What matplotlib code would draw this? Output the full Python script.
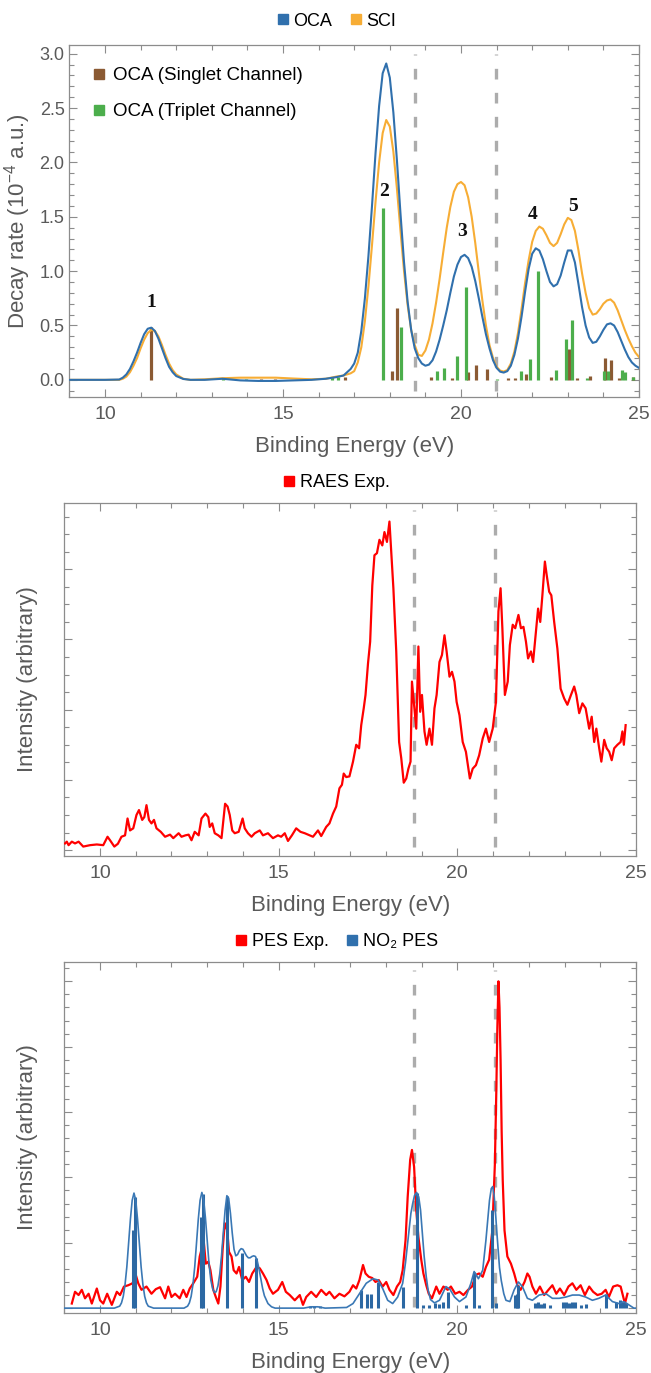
import matplotlib.pyplot as plt
from matplotlib.lines import Line2D
from matplotlib.ticker import MultipleLocator

plt.rcParams['font.family'] = ['Liberation Sans', 'DejaVu Sans']
plt.rcParams['mathtext.default'] = 'regular'

# ---- panel 1: OCA / SCI decay rates ----
top_e = [9.0, 10.0, 10.4, 10.5, 10.6, 10.7, 10.8, 10.9, 11.0, 11.1, 11.2, 11.3, 11.4, 11.5,
         11.6, 11.7, 11.8, 11.9, 12.0, 12.2, 12.4, 12.8, 13.3, 13.8, 14.3, 14.8, 15.3, 15.8,
         16.2, 16.5, 16.7, 16.9,
         17.0, 17.1, 17.2, 17.3, 17.4, 17.5, 17.6, 17.7, 17.8, 17.9,
         18.0, 18.1, 18.2, 18.3, 18.4, 18.5, 18.6, 18.7, 18.8, 18.9,
         19.0, 19.1, 19.2, 19.3, 19.4, 19.5, 19.6, 19.7, 19.8, 19.9,
         20.0, 20.1, 20.2, 20.3, 20.4, 20.5, 20.6, 20.7, 20.8, 20.9,
         21.0, 21.1, 21.2, 21.3, 21.4, 21.5, 21.6, 21.7, 21.8, 21.9,
         22.0, 22.1, 22.2, 22.3, 22.4, 22.5, 22.6, 22.7, 22.8, 22.9,
         23.0, 23.1, 23.2, 23.3, 23.4, 23.5, 23.6, 23.7, 23.8, 23.9,
         24.0, 24.1, 24.2, 24.3, 24.4, 24.5, 24.6, 24.7, 24.8, 24.9, 25.0]
oca_curve = [0, 0, 0.003, 0.02, 0.05, 0.1, 0.17, 0.25, 0.34, 0.42, 0.47, 0.48, 0.45, 0.38,
             0.29, 0.2, 0.12, 0.07, 0.035, 0.008, 0.0, 0.0, 0.01, -0.005, -0.01, -0.01, -0.005, 0.0,
             0.01, 0.025, 0.04, 0.1,
             0.15, 0.25, 0.45, 0.75, 1.14, 1.6, 2.09, 2.52, 2.82, 2.91,
             2.78, 2.46, 2.02, 1.53, 1.08, 0.72, 0.46, 0.29, 0.2, 0.15,
             0.13, 0.14, 0.18, 0.26, 0.37, 0.5, 0.64, 0.8, 0.95, 1.06,
             1.13, 1.15, 1.12, 1.04, 0.91, 0.75, 0.58, 0.42, 0.29, 0.18,
             0.11, 0.075, 0.067, 0.08, 0.13, 0.23, 0.38, 0.58, 0.81, 1.02,
             1.16, 1.21, 1.19, 1.11, 1.0, 0.9, 0.86, 0.88, 0.96, 1.08,
             1.19, 1.19, 1.08, 0.88, 0.67, 0.5, 0.39, 0.34, 0.35, 0.4,
             0.46, 0.51, 0.52, 0.5, 0.44, 0.36, 0.28, 0.21, 0.16, 0.13, 0.11]
sci_curve = [0, 0, 0.0, 0.01, 0.03, 0.07, 0.13, 0.2, 0.29, 0.37, 0.43, 0.46, 0.45, 0.4,
             0.32, 0.23, 0.15, 0.09, 0.05, 0.01, 0.0, 0.005, 0.015, 0.02, 0.02, 0.02, 0.012, 0.005,
             0.01, 0.03, 0.04, 0.06,
             0.08, 0.16, 0.3, 0.54, 0.86, 1.24, 1.64, 2.0, 2.27, 2.39,
             2.33, 2.1, 1.76, 1.37, 1.0, 0.69, 0.46, 0.32, 0.23, 0.22,
             0.27, 0.37, 0.52, 0.71, 0.93, 1.17, 1.4, 1.59, 1.73, 1.8,
             1.82, 1.79, 1.68, 1.5, 1.26, 0.99, 0.73, 0.5, 0.32, 0.2,
             0.12, 0.085, 0.076, 0.09, 0.15, 0.26, 0.43, 0.65, 0.89, 1.1,
             1.27, 1.37, 1.41, 1.39, 1.33, 1.26, 1.23, 1.26, 1.34, 1.43,
             1.49, 1.47, 1.37, 1.19, 0.98, 0.8, 0.66, 0.6, 0.61, 0.65,
             0.7, 0.73, 0.74, 0.71, 0.64, 0.55, 0.46, 0.38, 0.31, 0.25, 0.21]

singlet_e = [11.29, 14.37, 14.78, 16.74, 18.07, 18.19, 19.15, 19.76, 20.19, 20.41, 20.74,
             21.33, 21.52, 21.82, 22.52, 23.04, 23.25, 23.62, 24.05, 24.2, 24.45, 24.84]
singlet_h = [0.49, 0.01, 0.01, 0.03, 0.08, 0.66, 0.03, 0.02, 0.07, 0.14, 0.10,
             0.02, 0.02, 0.05, 0.03, 0.28, 0.02, 0.04, 0.20, 0.18, 0.02, 0.03]
triplet_e = [13.31, 13.96, 16.37, 16.55, 17.80, 18.31, 19.32, 19.52, 19.90, 20.13, 21.02, 21.69,
             21.94, 22.17, 22.67, 22.94, 23.11, 23.53, 24.03, 24.14, 24.51, 24.61, 24.84]
triplet_h = [0.02, 0.01, 0.03, 0.03, 1.58, 0.49, 0.08, 0.11, 0.22, 0.85, 0.01, 0.08,
             0.19, 1.00, 0.09, 0.38, 0.55, 0.02, 0.08, 0.08, 0.09, 0.07, 0.03]

peak_labels = ['1', '2', '3', '4', '5']
peak_label_e = [11.29, 17.85, 20.04, 22.0, 23.14]
peak_label_y = [0.71, 1.73, 1.36, 1.52, 1.59]

# ---- panel 2: RAES experiment ----
raes_pts = [(9.02, 0.095), (9.07, 0.12), (9.12, 0.07), (9.21, 0.12), (9.3, 0.095), (9.4, 0.12),
            (9.53, 0.05), (9.72, 0.07), (9.91, 0.08), (10.09, 0.07), (10.21, 0.19), (10.28, 0.14),
            (10.4, 0.05), (10.5, 0.09), (10.6, 0.19), (10.7, 0.21), (10.77, 0.45), (10.84, 0.28),
            (10.93, 0.31), (11.02, 0.5), (11.09, 0.57), (11.18, 0.43), (11.24, 0.47), (11.3, 0.64),
            (11.37, 0.43), (11.44, 0.38), (11.51, 0.43), (11.58, 0.31), (11.7, 0.26), (11.82, 0.19),
            (11.96, 0.22), (12.05, 0.17), (12.2, 0.24), (12.28, 0.19), (12.39, 0.21), (12.48, 0.22),
            (12.56, 0.14), (12.65, 0.26), (12.76, 0.21), (12.84, 0.45), (12.95, 0.52), (13.03, 0.47),
            (13.07, 0.33), (13.14, 0.38), (13.21, 0.24), (13.31, 0.21), (13.4, 0.17), (13.5, 0.66),
            (13.57, 0.62), (13.63, 0.5), (13.7, 0.28), (13.77, 0.24), (13.88, 0.26), (13.99, 0.45),
            (14.05, 0.31), (14.14, 0.24), (14.24, 0.19), (14.33, 0.24), (14.47, 0.28), (14.56, 0.21),
            (14.7, 0.24), (14.84, 0.17), (14.98, 0.21), (15.07, 0.19), (15.17, 0.24), (15.26, 0.13),
            (15.37, 0.21), (15.49, 0.31), (15.61, 0.26), (15.73, 0.24), (15.87, 0.21), (15.96, 0.19),
            (16.1, 0.28), (16.19, 0.2), (16.33, 0.33), (16.42, 0.38), (16.52, 0.52), (16.61, 0.62),
            (16.7, 0.88), (16.77, 0.93), (16.82, 1.09), (16.89, 1.04), (16.98, 1.05), (17.08, 1.26),
            (17.17, 1.5), (17.25, 1.45), (17.31, 1.78), (17.38, 2.02), (17.43, 2.21), (17.5, 2.66),
            (17.56, 2.97), (17.62, 3.77), (17.68, 4.2), (17.75, 4.23), (17.82, 4.42), (17.9, 4.34),
            (17.96, 4.53), (18.03, 4.39), (18.1, 4.68), (18.15, 4.25), (18.21, 3.73), (18.29, 2.83),
            (18.37, 1.54), (18.43, 1.31), (18.5, 0.96), (18.57, 1.02), (18.63, 1.16), (18.69, 1.26),
            (18.73, 2.4), (18.79, 2.07), (18.85, 1.73), (18.91, 2.9), (18.96, 1.97), (19.01, 2.21),
            (19.08, 1.69), (19.14, 1.5), (19.22, 1.73), (19.29, 1.5), (19.36, 2.02), (19.42, 2.21),
            (19.5, 2.68), (19.57, 2.78), (19.64, 3.06), (19.7, 2.83), (19.78, 2.47), (19.85, 2.54),
            (19.92, 2.4), (19.98, 2.11), (20.06, 1.92), (20.15, 1.54), (20.24, 1.4), (20.35, 1.02),
            (20.43, 1.16), (20.52, 1.21), (20.61, 1.35), (20.71, 1.59), (20.8, 1.73), (20.89, 1.54),
            (20.99, 1.73), (21.08, 2.11), (21.15, 3.4), (21.21, 3.73), (21.26, 3.16), (21.33, 2.21),
            (21.41, 2.4), (21.47, 2.92), (21.55, 3.21), (21.62, 3.16), (21.71, 3.35), (21.78, 3.16),
            (21.85, 3.18), (21.92, 2.97), (21.98, 2.73), (22.06, 2.83), (22.12, 2.68), (22.2, 3.11),
            (22.26, 3.44), (22.32, 3.25), (22.38, 3.63), (22.45, 4.11), (22.5, 3.92), (22.57, 3.68),
            (22.63, 3.63), (22.71, 3.25), (22.8, 2.87), (22.89, 2.3), (22.99, 2.16), (23.08, 2.07),
            (23.18, 2.21), (23.27, 2.33), (23.33, 2.21), (23.41, 1.95), (23.5, 2.09), (23.59, 2.02),
            (23.69, 1.73), (23.76, 1.9), (23.83, 1.54), (23.89, 1.73), (23.97, 1.45), (24.03, 1.26),
            (24.11, 1.57), (24.18, 1.45), (24.25, 1.4), (24.32, 1.28), (24.39, 1.45), (24.48, 1.5),
            (24.57, 1.54), (24.62, 1.69), (24.66, 1.5), (24.71, 1.78)]

# ---- panel 3: PES experiment and NO2 PES ----
pes_exp_pts = [(9.21, 0.07), (9.3, 0.25), (9.4, 0.2), (9.49, 0.28), (9.58, 0.15), (9.68, 0.22),
               (9.77, 0.07), (9.91, 0.3), (10.0, 0.12), (10.09, 0.07), (10.2, 0.22), (10.33, 0.05),
               (10.47, 0.25), (10.56, 0.2), (10.67, 0.33), (10.79, 0.35), (10.91, 0.38), (11.0, 0.51),
               (11.07, 0.38), (11.16, 0.28), (11.3, 0.33), (11.44, 0.22), (11.56, 0.29), (11.68, 0.32),
               (11.82, 0.15), (11.91, 0.33), (12.0, 0.17), (12.1, 0.22), (12.23, 0.15), (12.33, 0.28),
               (12.42, 0.17), (12.51, 0.3), (12.61, 0.38), (12.72, 0.48), (12.79, 0.79), (12.86, 0.94),
               (12.9, 1.04), (12.96, 0.68), (13.03, 0.71), (13.09, 0.58), (13.17, 0.28), (13.24, 0.17),
               (13.31, 0.07), (13.37, 0.33), (13.43, 0.89), (13.49, 1.3), (13.56, 1.19), (13.61, 0.86),
               (13.68, 0.79), (13.74, 0.58), (13.82, 0.53), (13.89, 0.63), (13.98, 0.43), (14.08, 0.48),
               (14.17, 0.4), (14.26, 0.53), (14.38, 0.63), (14.47, 0.61), (14.56, 0.53), (14.66, 0.43),
               (14.75, 0.3), (14.84, 0.22), (14.98, 0.28), (15.1, 0.4), (15.2, 0.25), (15.31, 0.2),
               (15.45, 0.12), (15.59, 0.2), (15.68, 0.05), (15.77, 0.17), (15.91, 0.25), (16.05, 0.17),
               (16.19, 0.28), (16.33, 0.2), (16.42, 0.25), (16.56, 0.15), (16.7, 0.22), (16.84, 0.18),
               (16.98, 0.25), (17.08, 0.35), (17.17, 0.3), (17.26, 0.43), (17.36, 0.66), (17.43, 0.53),
               (17.52, 0.48), (17.62, 0.46), (17.71, 0.4), (17.8, 0.43), (17.91, 0.33), (18.01, 0.4),
               (18.1, 0.28), (18.21, 0.2), (18.31, 0.33), (18.4, 0.4), (18.47, 0.58), (18.55, 1.04),
               (18.61, 1.7), (18.68, 2.27), (18.73, 2.42), (18.79, 2.16), (18.85, 1.5), (18.91, 1.09),
               (18.99, 0.74), (19.05, 0.53), (19.13, 0.35), (19.2, 0.22), (19.29, 0.15), (19.41, 0.33),
               (19.5, 0.22), (19.61, 0.33), (19.73, 0.28), (19.82, 0.33), (19.94, 0.22), (20.06, 0.25),
               (20.17, 0.2), (20.3, 0.28), (20.41, 0.33), (20.52, 0.51), (20.61, 0.53), (20.71, 0.48),
               (20.8, 0.63), (20.89, 0.74), (20.98, 1.19), (21.05, 2.2), (21.09, 3.3), (21.12, 4.3),
               (21.15, 5.0), (21.18, 4.6), (21.21, 3.8), (21.24, 2.7), (21.27, 1.96), (21.32, 1.19),
               (21.4, 0.79), (21.5, 0.68), (21.59, 0.53), (21.68, 0.35), (21.77, 0.28), (21.88, 0.4),
               (21.96, 0.53), (22.02, 0.48), (22.1, 0.33), (22.2, 0.22), (22.31, 0.33), (22.43, 0.2),
               (22.55, 0.28), (22.66, 0.35), (22.77, 0.22), (22.87, 0.3), (22.99, 0.2), (23.11, 0.33),
               (23.22, 0.38), (23.33, 0.28), (23.45, 0.35), (23.57, 0.2), (23.69, 0.33), (23.8, 0.25),
               (23.92, 0.2), (24.04, 0.22), (24.15, 0.28), (24.24, 0.17), (24.36, 0.33), (24.48, 0.35),
               (24.57, 0.33), (24.63, 0.2), (24.69, 0.07), (24.76, 0.22)]

no2_curve_pts = [(9.0, 0.0), (10.4, 0.0), (10.55, 0.03), (10.6, 0.08), (10.65, 0.18), (10.7, 0.36),
                 (10.75, 0.63), (10.8, 0.99), (10.85, 1.36), (10.9, 1.65), (10.95, 1.76), (11.0, 1.65),
                 (11.05, 1.36), (11.1, 0.99), (11.15, 0.63), (11.2, 0.36), (11.25, 0.18), (11.3, 0.08),
                 (11.35, 0.03), (11.5, 0.0), (12.35, 0.0), (12.45, 0.03), (12.5, 0.08), (12.55, 0.18),
                 (12.6, 0.36), (12.65, 0.63), (12.7, 0.99), (12.75, 1.36), (12.8, 1.65), (12.85, 1.77),
                 (12.9, 1.66), (12.95, 1.38), (13.0, 1.02), (13.05, 0.68), (13.1, 0.43), (13.15, 0.3),
                 (13.2, 0.24), (13.25, 0.25), (13.3, 0.34), (13.35, 0.52), (13.4, 0.8), (13.45, 1.15),
                 (13.5, 1.5), (13.55, 1.72), (13.6, 1.68), (13.65, 1.45), (13.7, 1.15), (13.75, 0.9),
                 (13.8, 0.8), (13.85, 0.82), (13.9, 0.88), (13.95, 0.91), (14.0, 0.9), (14.05, 0.85),
                 (14.1, 0.8), (14.15, 0.77), (14.2, 0.77), (14.25, 0.79), (14.3, 0.8), (14.35, 0.79),
                 (14.4, 0.72), (14.45, 0.6), (14.5, 0.45), (14.55, 0.3), (14.6, 0.19), (14.7, 0.07),
                 (14.8, 0.02), (14.9, 0.0), (15.7, 0.0), (15.9, 0.02), (16.1, 0.02), (16.3, 0.0),
                 (16.9, 0.01), (17.08, 0.07), (17.26, 0.22), (17.45, 0.38), (17.64, 0.45), (17.78, 0.43),
                 (17.91, 0.3), (18.05, 0.12), (18.19, 0.07), (18.33, 0.17), (18.47, 0.38), (18.55, 0.7),
                 (18.6, 0.95), (18.65, 1.2), (18.7, 1.45), (18.75, 1.6), (18.8, 1.72), (18.86, 1.77),
                 (18.92, 1.7), (18.97, 1.5), (19.02, 1.15), (19.07, 0.8), (19.13, 0.48), (19.18, 0.28),
                 (19.25, 0.13), (19.36, 0.08), (19.5, 0.12), (19.68, 0.33), (19.79, 0.29), (19.92, 0.17),
                 (20.06, 0.1), (20.24, 0.17), (20.38, 0.38), (20.47, 0.56), (20.59, 0.45), (20.71, 0.58),
                 (20.8, 1.04), (20.85, 1.35), (20.9, 1.65), (20.95, 1.83), (20.99, 1.86), (21.03, 1.72),
                 (21.07, 1.45), (21.1, 1.2), (21.14, 0.9), (21.18, 0.62), (21.23, 0.42), (21.3, 0.22),
                 (21.36, 0.12), (21.47, 0.1), (21.59, 0.28), (21.71, 0.4), (21.82, 0.33), (21.96, 0.15),
                 (22.1, 0.12), (22.29, 0.2), (22.48, 0.22), (22.66, 0.15), (22.85, 0.15), (23.04, 0.17),
                 (23.22, 0.2), (23.41, 0.2), (23.59, 0.17), (23.78, 0.12), (23.96, 0.15), (24.15, 0.2),
                 (24.34, 0.1), (24.52, 0.07), (24.66, 0.1), (24.8, 0.05), (24.94, 0.0), (25.0, 0.0)]

no2_stick_e = [10.91, 10.97, 12.82, 12.88, 13.54, 13.98, 14.36, 15.87, 16.0, 16.15, 17.31, 17.47,
               17.59, 17.78, 18.47, 18.87, 19.03, 19.22, 19.38, 19.5, 19.6, 19.73, 20.24, 20.47,
               20.6, 20.96, 21.08, 21.62, 21.66, 21.71, 22.18, 22.26, 22.34, 22.42, 22.6, 22.95,
               23.05, 23.12, 23.2, 23.3, 23.45, 23.6, 24.15, 24.45, 24.55, 24.65, 24.72]
no2_stick_h = [1.2, 1.7, 1.4, 1.75, 1.72, 0.85, 0.77, 0.03, 0.03, 0.03, 0.28, 0.22,
               0.22, 0.40, 0.33, 1.76, 0.05, 0.05, 0.08, 0.06, 0.1, 0.25, 0.05, 0.56,
               0.05, 1.5, 0.08, 0.2, 0.22, 0.35, 0.08, 0.1, 0.06, 0.08, 0.05, 0.1,
               0.1, 0.08, 0.1, 0.09, 0.05, 0.06, 0.22, 0.1, 0.12, 0.1, 0.08]

C_OCA = '#3070ad'
C_SCI = '#f7ad35'
C_SING = '#8b5a33'
C_TRIP = '#4cae4c'
C_RED = '#ff0000'
C_DASH = '#acacac'
FRAME = '#8c8c8c'
TXT = '#5a5a5a'

W, H = 651, 1373


def px_axes(fig, left, top, right, bottom):
    return fig.add_axes([left / W, 1 - bottom / H, (right - left) / W, (bottom - top) / H])


def style_frame(ax, xlabel, ylabel, ylab_x, yminor, ymajor, show_ylabels):
    for s in ax.spines.values():
        s.set_color(FRAME)
        s.set_linewidth(0.9)
    ax.set_xlim(9, 25)
    ax.set_xticks([10, 15, 20, 25])
    ax.xaxis.set_minor_locator(MultipleLocator(1))
    ax.yaxis.set_major_locator(MultipleLocator(ymajor))
    ax.yaxis.set_minor_locator(MultipleLocator(yminor))
    ax.tick_params(which='both', direction='in', top=True, right=True, color=FRAME,
                   labelcolor=TXT, labelsize=14, width=0.8)
    ax.tick_params(which='major', length=6, pad=7)
    ax.tick_params(which='minor', length=3.5)
    ax.tick_params(axis='y', labelsize=13, pad=3.5)
    if not show_ylabels:
        ax.tick_params(axis='y', labelleft=False)
    ax.set_xlabel(xlabel, fontsize=16, color=TXT, labelpad=9)
    ax.set_ylabel(ylabel, fontsize=16, color=TXT)
    ax.yaxis.set_label_coords(ylab_x, 0.5)


def dash_lines(ax, xs, y0, y1):
    for x in xs:
        ax.plot([x, x], [y0, y1], color=C_DASH, lw=2.4, dashes=(3.2, 4.0), zorder=1)


fig = plt.figure(figsize=(W / 100, H / 100), dpi=100)

# panel 1
ax1 = px_axes(fig, 69.4, 45, 639, 396.7)
ax1.set_ylim(-0.155, 3.08)
dash_lines(ax1, [18.72, 20.98], -0.1, 3.0)
ax1.vlines(singlet_e, 0, singlet_h, color=C_SING, lw=2.3, zorder=2)
ax1.vlines(triplet_e, 0, triplet_h, color=C_TRIP, lw=2.3, zorder=2)
ax1.plot(top_e, sci_curve, color=C_SCI, lw=1.5, zorder=3)
ax1.plot(top_e, oca_curve, color=C_OCA, lw=1.5, zorder=4)
for lab, x, y in zip(peak_labels, peak_label_e, peak_label_y):
    ax1.text(x, y, lab, ha='center', va='center', fontsize=14, fontweight='bold',
             family='Liberation Serif', color='#111111', zorder=5)
style_frame(ax1, 'Binding Energy (eV)', 'Decay rate (10$^{-4}$ a.u.)', -0.064, 0.1, 0.5, True)
ax1.yaxis.set_major_formatter(plt.FuncFormatter(lambda v, p: f'{v:.1f}'))
ax1.set_yticks([0, 0.5, 1.0, 1.5, 2.0, 2.5, 3.0])
ax1.legend(handles=[Line2D([], [], ls='', marker='s', ms=7, color=C_SING),
                    Line2D([], [], ls='', marker='s', ms=7, color=C_TRIP)],
           labels=['OCA (Singlet Channel)', 'OCA (Triplet Channel)'], loc='upper left',
           bbox_to_anchor=(0.0, 0.99), frameon=False, fontsize=13.5, handletextpad=0.1,
           labelspacing=1.0, handlelength=1.2, borderaxespad=0.6)
fig.legend(handles=[Line2D([], [], ls='', marker='s', ms=7, color=C_OCA),
                    Line2D([], [], ls='', marker='s', ms=7, color=C_SCI)],
           labels=['OCA', 'SCI'], loc='center', bbox_to_anchor=(335 / W, 1 - 21 / H), ncol=2,
           frameon=False, fontsize=13, handletextpad=0.1, columnspacing=0.8, handlelength=1.0)

# panel 2
ax2 = px_axes(fig, 64.3, 503.3, 636, 855.7)
ax2.set_ylim(-0.08, 4.94)
dash_lines(ax2, [18.8, 21.05], 0.05, 4.84)
raes_e, raes_v = zip(*raes_pts)
ax2.plot(raes_e, raes_v, color=C_RED, lw=1.6, zorder=3)
style_frame(ax2, 'Binding Energy (eV)', 'Intensity (arbitrary)', -0.046, 0.25, 1.0, False)
fig.legend(handles=[Line2D([], [], ls='', marker='s', ms=7, color=C_RED)],
           labels=['RAES Exp.'], loc='center', bbox_to_anchor=(335 / W, 1 - 483 / H),
           frameon=False, fontsize=13, handletextpad=0.1, handlelength=1.0)

# panel 3
ax3 = px_axes(fig, 64.3, 961.7, 636, 1312.7)
ax3.set_ylim(-0.07, 5.30)
dash_lines(ax3, [18.8, 21.05], 0.02, 5.18)
no2_e, no2_v = zip(*no2_curve_pts)
pes_e, pes_v = zip(*pes_exp_pts)
ax3.plot(pes_e, pes_v, color=C_RED, lw=1.6, zorder=2)
ax3.vlines(no2_stick_e, 0, no2_stick_h, color='#2c68a3', lw=2.2, zorder=3)
ax3.plot(no2_e, no2_v, color='#3a78b5', lw=1.2, zorder=4)
style_frame(ax3, 'Binding Energy (eV)', 'Intensity (arbitrary)', -0.046, 0.2, 1.0, False)
fig.legend(handles=[Line2D([], [], ls='', marker='s', ms=7, color=C_RED),
                    Line2D([], [], ls='', marker='s', ms=7, color=C_OCA)],
           labels=['PES Exp.', 'NO\u2082 PES'], loc='center', bbox_to_anchor=(335 / W, 1 - 942 / H),
           ncol=2, frameon=False, fontsize=13, handletextpad=0.1, columnspacing=0.8,
           handlelength=1.0)

fig.savefig('out.png', dpi=100)
